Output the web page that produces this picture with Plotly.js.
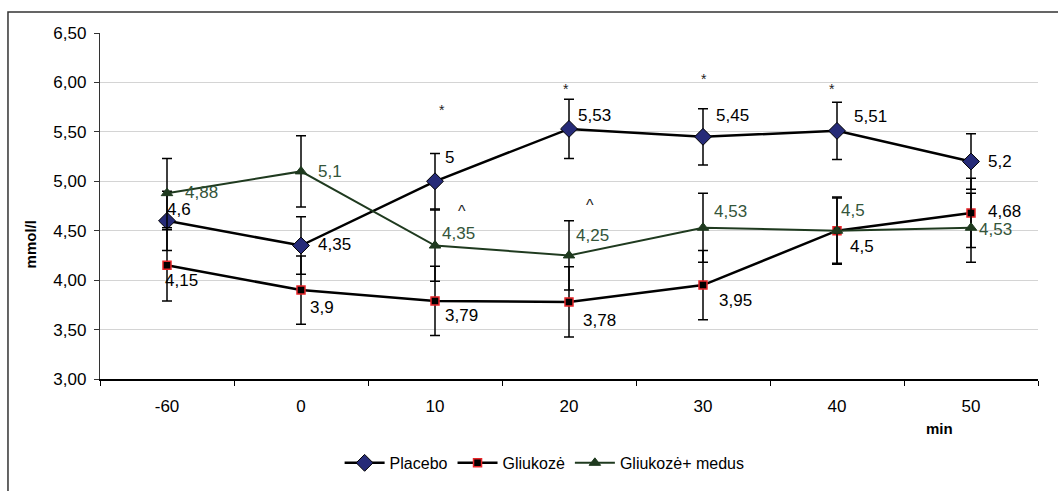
<!DOCTYPE html>
<html>
<head>
<meta charset="utf-8">
<script src="https://cdn.plot.ly/plotly-3.0.1.min.js"></script>
<style>html,body{margin:0;padding:0;background:#fff;}#chart{width:1058px;height:491px;}</style>
</head>
<body>
<div id="chart"></div>
<script>
// ---- data ----
const categories = ['-60', '0', '10', '20', '30', '40', '50'];
const placebo = [4.6, 4.35, 5, 5.53, 5.45, 5.51, 5.2];
const placeboErr = [0.30, 0.29, 0.28, 0.30, 0.285, 0.29, 0.28];
const gliukoze = [4.15, 3.9, 3.79, 3.78, 3.95, 4.5, 4.68];
const gliukozeErr = [0.36, 0.345, 0.35, 0.355, 0.35, 0.34, 0.35];
const medus = [4.88, 5.1, 4.35, 4.25, 4.53, 4.5, 4.53];
const medusErr = [0.35, 0.36, 0.36, 0.35, 0.35, 0.33, 0.35];
const seriesNames = ['Placebo', 'Gliukozė', 'Gliukozė+ medus'];
// significance marks
const starX = [2.05, 2.98, 4.01, 4.96];
const starY = [5.72, 5.93, 6.03, 5.93];
const caretX = [2.2, 3.16];
const caretY = [4.69, 4.76];

// ---- label offsets (px) ----
const placeboDx = [12, 33, 14, 25, 29, 33, 29], placeboDy = [-11, -1, -24, -13, -21, -14, 0];
const gliukozeDx = [14, 21, 26, 30, 32, 25, 33], gliukozeDy = [15, 17, 15, 19, 15, 16, -1];
const medusDx = [34, 29, 23, 23, 27, 16, 24], medusDy = [-1, 0, -12, -20, -16, -20, 2];

const xs = categories.map((c, i) => i);
const FONT = 'Arial, "Liberation Sans", sans-serif';
const green = '#1f3a1f';
const greenText = '#34553a';

function errObj(arr) {
  return {type: 'data', array: arr, visible: true, color: '#000', thickness: 1.5, width: 5};
}

const traces = [
  {x: xs, y: placebo, name: seriesNames[0], type: 'scatter', mode: 'lines+markers',
   line: {color: '#000', width: 2.5},
   marker: {symbol: 'diamond', size: 13, color: '#262b78', line: {color: '#000', width: 1}},
   error_y: errObj(placeboErr)},
  {x: xs, y: gliukoze, name: seriesNames[1], type: 'scatter', mode: 'lines+markers',
   line: {color: '#000', width: 2.5},
   marker: {symbol: 'square', size: 8, color: '#000', line: {color: '#e8262a', width: 1.5}},
   error_y: errObj(gliukozeErr)},
  {x: xs, y: medus, name: seriesNames[2], type: 'scatter', mode: 'lines+markers',
   line: {color: green, width: 2},
   marker: {symbol: 'triangle-up', size: 10, color: green, line: {color: green, width: 1}},
   error_y: errObj(medusErr)}
];

function fmt(v) { return String(v).replace('.', ','); }
const annotations = [];
function addLabels(vals, dx, dy, color) {
  vals.forEach((v, i) => {
    annotations.push({x: xs[i], y: v, xref: 'x', yref: 'y', text: fmt(v), showarrow: false,
      xshift: dx[i], yshift: -dy[i], xanchor: 'center', yanchor: 'middle',
      font: {family: FONT, size: 17, color: color}});
  });
}
addLabels(placebo, placeboDx, placeboDy, '#000');
addLabels(gliukoze, gliukozeDx, gliukozeDy, '#000');
addLabels(medus, medusDx, medusDy, greenText);
starX.forEach((x, i) => annotations.push({x: x, y: starY[i], xref: 'x', yref: 'y', text: '*', showarrow: false,
  font: {family: FONT, size: 14, color: '#222'}}));
caretX.forEach((x, i) => annotations.push({x: x, y: caretY[i], xref: 'x', yref: 'y', text: '^', showarrow: false,
  font: {family: FONT, size: 16, color: '#222'}}));
annotations.push({x: 0.8955, y: -0.144, xref: 'paper', yref: 'paper', text: '<b>min</b>', showarrow: false,
  xanchor: 'center', yanchor: 'middle', font: {family: FONT, size: 15, color: '#000'}});
annotations.push({x: -0.0746, y: 0.389, xref: 'paper', yref: 'paper', text: '<b>mmol/l</b>', showarrow: false,
  textangle: -90, xanchor: 'center', yanchor: 'middle', font: {family: FONT, size: 15, color: '#000'}});

const layout = {
  width: 1058, height: 491,
  margin: {l: 100, r: 20, t: 33, b: 111},
  paper_bgcolor: '#fff', plot_bgcolor: '#fff',
  separators: ', ',
  font: {family: FONT, size: 17, color: '#000'},
  showlegend: true,
  legend: {orientation: 'h', x: 0.474, y: -0.239, xanchor: 'center', yanchor: 'middle',
    font: {family: FONT, size: 16, color: '#000'}, bgcolor: 'rgba(0,0,0,0)', itemwidth: 40, tracegroupgap: 0},
  xaxis: {range: [-0.5, 6.5], tickvals: xs, ticktext: categories, ticks: '', showgrid: false, zeroline: false,
    showline: true, linecolor: '#000', linewidth: 1.5, ticklabelstandoff: 11,
    tickfont: {family: FONT, size: 17, color: '#000'},
    minor: {tickvals: [-0.5, 0.5, 1.5, 2.5, 3.5, 4.5, 5.5, 6.5], ticks: 'outside', ticklen: 5, tickcolor: '#000', tickwidth: 1, showgrid: false}},
  yaxis: {range: [3, 6.5], dtick: 0.5, tick0: 3, tickformat: '.2f', ticks: 'outside', ticklen: 5, tickcolor: '#333', tickwidth: 1,
    showline: true, linecolor: '#333', linewidth: 1.2, showgrid: true, gridcolor: '#d4d4d4', gridwidth: 1, zeroline: false,
    tickfont: {family: FONT, size: 17, color: '#000'}, ticklabelstandoff: 4},
  shapes: [{type: 'rect', xref: 'paper', yref: 'paper', x0: -0.0981, x1: 1.2, y0: -0.6, y1: 1.0605,
    line: {color: '#333', width: 1.5}, fillcolor: 'rgba(0,0,0,0)', layer: 'below'}],
  annotations: annotations
};

Plotly.newPlot('chart', traces, layout, {displayModeBar: false, staticPlot: true});
</script>
</body>
</html>
